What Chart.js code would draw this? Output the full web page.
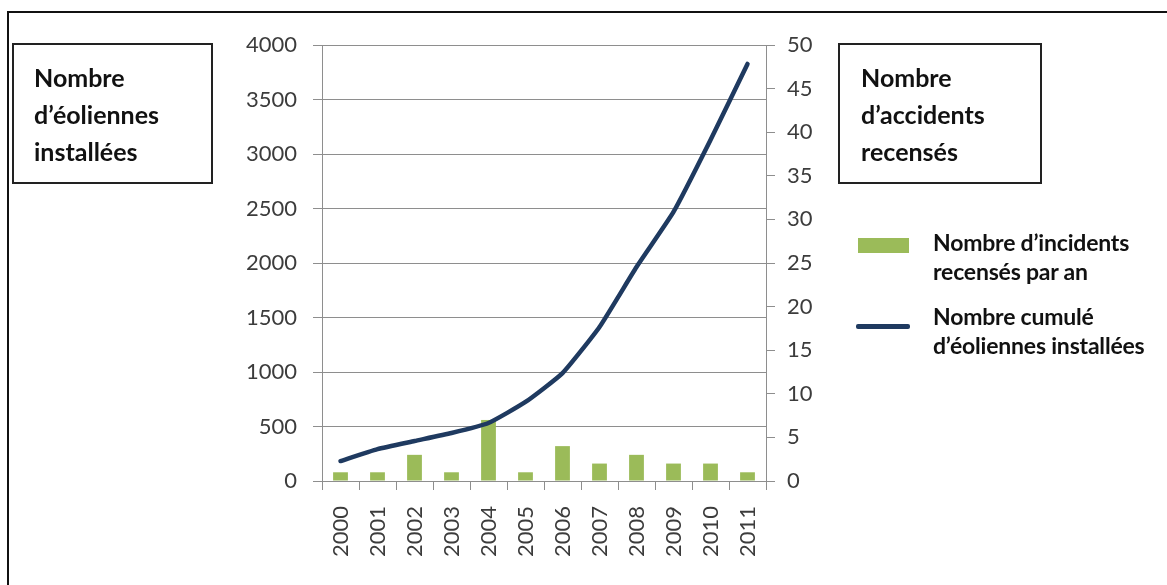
<!DOCTYPE html>
<html>
<head>
<meta charset="utf-8">
<script src="https://cdn.jsdelivr.net/npm/chart.js@4"></script>
<style>
    body { margin: 0; background: #fff; font-family: Lato, "Open Sans", sans-serif; }
    #wrap { position: relative; width: 1167px; height: 585px; overflow: hidden; }
    #chart-container { position: absolute; left: 0; top: 0; width: 1167px; height: 585px; }
    .frame { position: absolute; left: 7px; top: 11px; width: 1200px; height: 600px;
             border-left: 2px solid #111; border-top: 2px solid #111; }
    .titlebox { position: absolute; top: 43px; height: 141px; border: 2px solid #222;
                font-weight: bold; font-size: 25px; line-height: 37px; color: #111; box-sizing: border-box; }
    .titlebox div { padding-top: 14px; }
    .legend-txt { position: absolute; left: 933px; font-weight: bold; font-size: 23px; line-height: 29px;
                  color: #111; letter-spacing: -0.2px; }
    .swatch { position: absolute; }
</style>
</head>
<body>
<div id="wrap">
    <div class="frame"></div>
    <div id="chart-container"><canvas id="windChart"></canvas></div>

    <div class="titlebox" style="left:12px; width:201px;"><div style="padding-left:20px;">Nombre<br>d’éoliennes<br>installées</div></div>
    <div class="titlebox" style="left:838px; width:204px;"><div style="padding-left:21px;">Nombre<br>d’accidents<br>recensés</div></div>

    <div class="swatch" style="left:858px; top:238px; width:51px; height:15px; background:#9BBB59;"></div>
    <div class="legend-txt" style="top:228px;">Nombre d’incidents<br>recensés par an</div>
    <div class="swatch" style="left:856px; top:324px; width:54px; height:5px; background:#1F3A60; border-radius:2px;"></div>
    <div class="legend-txt" style="top:302px;">Nombre cumulé<br>d’éoliennes installées</div>
</div>

<script>
    // Données
    const annees = ["2000", "2001", "2002", "2003", "2004", "2005", "2006", "2007", "2008", "2009", "2010", "2011"];
    const incidentsParAn = [1, 1, 3, 1, 7, 1, 4, 2, 3, 2, 2, 1];
    const eoliennesCumulees = [183, 293, 367, 440, 532, 725, 990, 1413, 1963, 2468, 3128, 3826];
    const ticksGauche = { min: 0, max: 4000, pas: 500 };
    const ticksDroite = { min: 0, max: 50, pas: 5 };

    const gris = "#8e8e8e";
    const texteAxe = "#3c3c3c";

    Chart.defaults.font.family = "Lato, 'Open Sans', sans-serif";

    const ctx = document.getElementById("windChart").getContext("2d");
    new Chart(ctx, {
        type: "bar",
        data: {
            labels: annees,
            datasets: [
                {
                    type: "line",
                    label: "Nombre cumulé d’éoliennes installées",
                    data: eoliennesCumulees,
                    yAxisID: "yGauche",
                    borderColor: "#1F3A60",
                    borderWidth: 4.5,
                    borderCapStyle: "round",
                    borderJoinStyle: "round",
                    tension: 0.15,
                    pointRadius: 0,
                    fill: false,
                    order: 0
                },
                {
                    type: "bar",
                    label: "Nombre d’incidents recensés par an",
                    data: incidentsParAn,
                    yAxisID: "yDroite",
                    backgroundColor: "#9BBB59",
                    barPercentage: 0.4,
                    categoryPercentage: 1.0,
                    order: 1
                }
            ]
        },
        options: {
            responsive: true,
            maintainAspectRatio: false,
            animation: false,
            layout: { padding: { left: 200, right: 330, top: 45, bottom: 10 } },
            plugins: {
                legend: { display: false },
                tooltip: { enabled: false }
            },
            scales: {
                x: {
                    offset: true,
                    grid: { offset: true, drawOnChartArea: false, drawTicks: true, tickLength: 9, color: gris },
                    border: { display: true, color: gris },
                    ticks: { minRotation: 90, maxRotation: 90, padding: 16, color: texteAxe, font: { size: 22 } },
                    afterFit: function(scale) { scale.height = 94; }
                },
                yGauche: {
                    position: "left",
                    min: ticksGauche.min,
                    max: ticksGauche.max,
                    ticks: {
                        stepSize: ticksGauche.pas, padding: 16, color: texteAxe, font: { size: 22 },
                        callback: function(value) { return String(value); }
                    },
                    grid: { color: gris, tickLength: 9 },
                    border: { display: true, color: gris },
                    afterFit: function(scale) { scale.width = 122; }
                },
                yDroite: {
                    position: "right",
                    min: ticksDroite.min,
                    max: ticksDroite.max,
                    ticks: { stepSize: ticksDroite.pas, padding: 12, color: texteAxe, font: { size: 22 } },
                    grid: { drawOnChartArea: false, color: gris, tickLength: 9 },
                    border: { display: true, color: gris },
                    afterFit: function(scale) { scale.width = 71; }
                }
            }
        }
    });
</script>
</body>
</html>
